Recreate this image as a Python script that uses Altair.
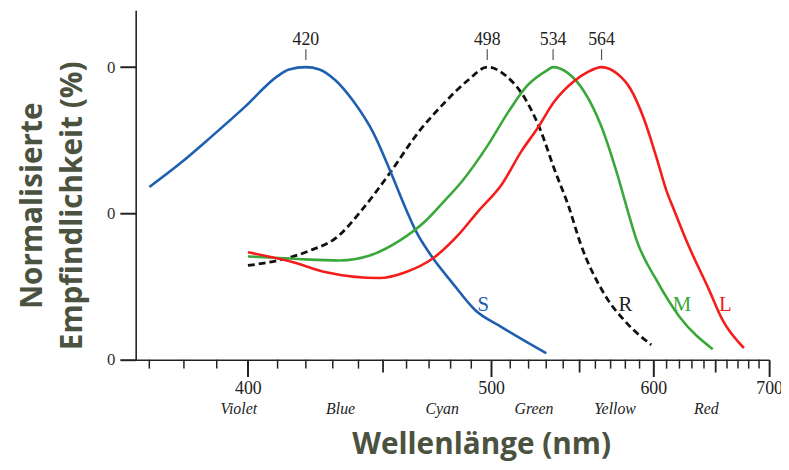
import altair as alt
import pandas as pd

# ---- data (wavelength in nm, normalised sensitivity in %) ----
S_nm = [370, 379, 388, 399, 410, 414, 420, 425, 431, 438, 446, 453, 460, 464, 471.5, 481, 492, 505, 530]
S_val = [59.0, 67.2, 75.9, 86.4, 96.9, 99.2, 100, 99.2, 95.5, 88.3, 77.5, 64.5, 51.0, 44.1, 35.0, 26.1, 16.9, 11.3, 2.2]

R_nm = [400, 410, 421.5, 431.5, 441, 452.5, 465.5, 477.5, 488.5, 498, 508.5, 518, 527, 534.5, 543.5, 550.5, 565.5, 581, 598.5]
R_val = [32.2, 33.9, 37.3, 41.8, 50.8, 63.4, 78.0, 88.1, 95.6, 100, 96.6, 89.3, 78.0, 65.5, 52.0, 39.8, 22.7, 12.5, 5.1]

M_nm = [400, 415.5, 432.5, 444.5, 457, 468.5, 477, 485.5, 498.5, 509, 519.5, 530.5, 534, 542.5, 553, 563.5, 574.5, 581, 588, 602.5, 620, 647.5]
M_val = [35.3, 34.5, 33.9, 35.6, 40.7, 47.5, 54.2, 61.0, 73.5, 84.7, 93.8, 98.9, 100, 98.1, 91.5, 80.2, 63.3, 52.0, 40.7, 27.1, 14.7, 3.6]

L_nm = [400, 415.5, 427.5, 448.5, 459.5, 471.5, 484, 493.5, 505.5, 516, 525, 534.5, 546.5, 555, 564, 574.5, 583.5, 593, 602.5, 610, 615, 625.5, 644.5, 656, 675.5]
L_val = [36.7, 33.3, 29.9, 27.9, 29.9, 34.5, 42.9, 50.8, 59.9, 71.2, 79.1, 88.1, 95.2, 98.3, 100, 97.7, 92.6, 82.5, 68.9, 57.6, 52.0, 40.7, 23.7, 13.6, 4.0]

peak_nm = [420, 498, 534, 564]
peak_text = ["420", "498", "534", "564"]

curve_labels = ["S", "R", "M", "L"]
curve_label_nm = [496, 580, 622, 658.5]
curve_label_val = [16.6, 16.6, 16.6, 16.6]
curve_label_colors = ["#1f5fb0", "#222222", "#3aa73a", "#f51c1c"]

band_names = ["Violet", "Blue", "Cyan", "Green", "Yellow", "Red"]
band_nm = [397, 433, 476, 523, 573, 642]

major_ticks = [400, 500, 600, 700]
medium_ticks = [450, 550, 650]
minor_ticks = [t for t in range(370, 701, 10) if t % 50 != 0]

y_tick_values = [0, 50, 100]
y_tick_labels = ["0", "0", "0"]

# ---- tables ----
lines_df = pd.DataFrame({
    "nm": S_nm + M_nm + L_nm,
    "v": S_val + M_val + L_val,
    "cone": ["S"] * len(S_nm) + ["M"] * len(M_nm) + ["L"] * len(L_nm),
})
rod_df = pd.DataFrame({"nm": R_nm, "v": R_val})
peaks_df = pd.DataFrame({"nm": peak_nm, "t": peak_text})
clab_df = pd.DataFrame({"nm": curve_label_nm, "v": curve_label_val, "t": curve_labels})
band_df = pd.DataFrame({"nm": band_nm, "t": band_names})
minor_df = pd.DataFrame({"nm": minor_ticks})
medium_df = pd.DataFrame({"nm": medium_ticks})

W, H = 640, 353
AX = "#222222"
TITLE_C = "#4b5240"
SERIF = "Liberation Serif"

xscale = alt.Scale(domain=[1e7 / 366.2, 1e7 / 700], nice=False, zero=False)
yscale = alt.Scale(domain=[0, 119.4], nice=False, zero=False)

xaxis = alt.Axis(
    values=[1e7 / t for t in major_ticks],
    labelExpr="format(round(1e7/datum.value), 'd')",
    grid=False, domainColor=AX, domainWidth=1.6,
    tickColor=AX, tickSize=17, tickWidth=2,
    labelFont=SERIF, labelFontSize=18, labelColor="#222", labelPadding=3,
    labelFlush=False, labelOverlap=False,
    title="Wellenlänge (nm)", titleFont="Open Sans", titleFontSize=30,
    titleFontWeight="bold", titleColor=TITLE_C,
    titleX=349, titleY=95, titleAlign="center", titleBaseline="alphabetic",
)
label_expr_y = " : ".join(
    [f"datum.value == {v} ? '{t}'" for v, t in zip(y_tick_values, y_tick_labels)] + ["''"]
)
yaxis = alt.Axis(
    values=y_tick_values, labelExpr=label_expr_y,
    grid=False, domainColor=AX, domainWidth=1.6,
    tickColor=AX, tickSize=16, tickWidth=2,
    labelFont=SERIF, labelFontSize=17, labelColor="#333", labelPadding=5,
    title=["Normalisierte", "Empfindlichkeit (%)"], titleFont="Open Sans",
    titleFontSize=30, titleFontWeight="bold", titleColor=TITLE_C,
    titleLineHeight=40, titleAngle=270, titleAlign="center",
    titleBaseline="alphabetic", titleX=-95, titleY=197,
)

xenc = alt.X("u:Q", scale=xscale, axis=xaxis)
yenc = alt.Y("v:Q", scale=yscale, axis=yaxis)

def ydat(val):
    return alt.Y(datum=val, scale=yscale, axis=yaxis, type="quantitative")

cones = alt.Chart(lines_df).mark_line(strokeWidth=2.6, interpolate="monotone").transform_calculate(
    u="1e7/datum.nm"
).encode(
    x=xenc, y=yenc,
    color=alt.Color("cone:N", scale=alt.Scale(domain=["S", "M", "L"],
                                              range=["#1f5fb0", "#3aa73a", "#f51c1c"]), legend=None),
    detail="cone:N",
)

rods = alt.Chart(rod_df).mark_line(strokeWidth=2.8, color="#111111", strokeDash=[7, 4],
                                   interpolate="monotone").transform_calculate(
    u="1e7/datum.nm"
).encode(x=xenc, y=yenc)

peak_rules = alt.Chart(peaks_df).mark_rule(color="#555555", strokeWidth=1.2).transform_calculate(
    u="1e7/datum.nm"
).encode(x=xenc, y=ydat(106.1), y2=alt.Y2(datum=102.4))

peak_text_layer = alt.Chart(peaks_df).mark_text(
    font=SERIF, fontSize=18, color="#222", baseline="alphabetic", align="center"
).transform_calculate(u="1e7/datum.nm").encode(x=xenc, y=ydat(107.6), text="t:N")

curve_text = alt.Chart(clab_df).mark_text(
    font=SERIF, fontSize=21, baseline="alphabetic", align="center"
).transform_calculate(u="1e7/datum.nm").encode(
    x=xenc, y=yenc, text="t:N",
    color=alt.Color("t:N", scale=alt.Scale(domain=curve_labels, range=curve_label_colors), legend=None),
)

minor_rules = alt.Chart(minor_df).mark_rule(color=AX, strokeWidth=1.5).transform_calculate(
    u="1e7/datum.nm"
).encode(x=xenc, y=alt.value(H), y2=alt.value(H + 9))

medium_rules = alt.Chart(medium_df).mark_rule(color=AX, strokeWidth=1.8).transform_calculate(
    u="1e7/datum.nm"
).encode(x=xenc, y=alt.value(H), y2=alt.value(H + 13))

band_text = alt.Chart(band_df).mark_text(
    font=SERIF, fontSize=16, fontStyle="italic", color="#222", baseline="alphabetic", align="center"
).transform_calculate(u="1e7/datum.nm").encode(x=xenc, y=alt.value(H + 55), text="t:N")

chart = alt.layer(
    minor_rules, medium_rules, band_text, peak_rules, peak_text_layer,
    rods, cones, curve_text
).resolve_scale(color="independent").properties(
    width=W, height=H,
    autosize=alt.AutoSizeParams(type="none"),
    padding={"left": 129, "top": 0, "right": 12, "bottom": 101},
    background="white",
).configure_view(stroke=None)

chart.save("out.html", embed_options={"renderer": "svg", "actions": False})
